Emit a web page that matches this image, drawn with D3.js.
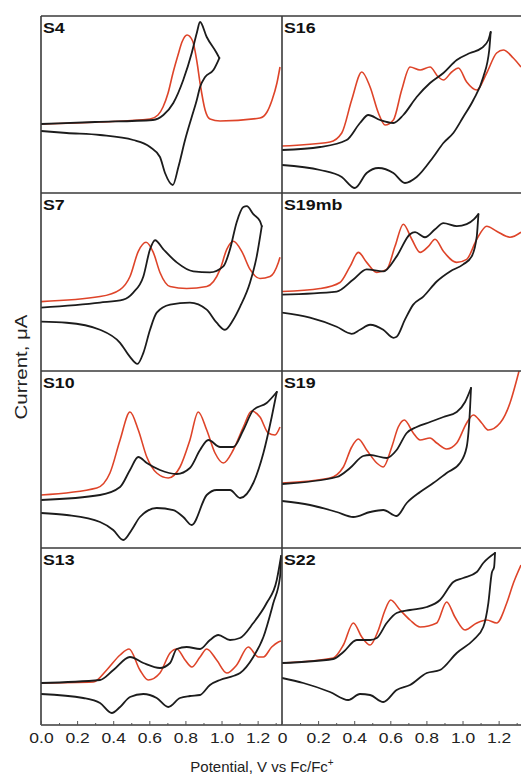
<!DOCTYPE html>
<html>
<head>
<meta charset="utf-8">
<script src="https://cdn.jsdelivr.net/npm/d3@7"></script>
<style>
  html, body { margin: 0; padding: 0; background: #fff; }
  svg { display: block; }
</style>
</head>
<body>
<svg id="chart" width="521" height="775"></svg>
<script>
// Potential (V vs Fc/Fc+) and current (arbitrary units, 0-177 per panel).
// CV traces run forward to the switching potential, then back.

const panelNames = ["S4", "S16", "S7", "S19mb", "S10", "S19", "S13", "S22"];
const majorTicks = [0, 0.2, 0.4, 0.6, 0.8, 1.0, 1.2];
const minorTicks = [0.1, 0.3, 0.5, 0.7, 0.9, 1.1, 1.3];
const leftTickLabels = ["0.0", "0.2", "0.4", "0.6", "0.8", "1.0", "1.2"];
const rightTickLabels = ["0", "0.2", "0.4", "0.6", "0.8", "1.0", "1.2"];

const s4Dpv = [[0,69],[0.327,71],[0.604,74],[0.648,78],[0.676,86],[0.704,100],[0.731,120],[0.759,138],[0.781,151],[0.809,158],[0.840,152],[0.864,131],[0.881,110],[0.909,83],[0.936,74],[0.992,72],[1.213,75],[1.252,81],[1.280,93],[1.307,110],[1.324,126]];
const s4Cv = [[0,69],[0.30,71],[0.620,73],[0.678,78],[0.733,90],[0.788,113],[0.835,140],[0.863,160],[0.881,171],[0.918,156],[0.973,140],[0.988,135],[0.955,123],[0.909,116],[0.881,106],[0.863,93],[0.835,76],[0.798,53],[0.761,26],[0.730,8],[0.687,20],[0.659,36],[0.604,46],[0.511,53],[0.327,58],[0.142,60],[0,62]];

const s7Dpv = [[0,69],[0.327,74],[0.438,81],[0.493,94],[0.539,119],[0.582,128],[0.622,118],[0.659,98],[0.715,84],[0.807,82],[0.918,84],[0.992,101],[1.029,121],[1.065,129],[1.112,119],[1.158,101],[1.213,92],[1.269,94],[1.315,108],[1.324,113]];
const s7Cv = [[0,63],[0.327,68],[0.456,71],[0.511,78],[0.567,94],[0.604,121],[0.632,130],[0.678,121],[0.752,108],[0.844,99],[0.936,98],[1.010,104],[1.047,121],[1.084,148],[1.121,163],[1.140,164],[1.176,156],[1.213,149],[1.223,144],[1.195,114],[1.158,88],[1.103,64],[1.065,51],[1.019,41],[0.973,48],[0.918,61],[0.825,68],[0.715,66],[0.641,58],[0.604,41],[0.567,18],[0.534,7],[0.493,14],[0.438,28],[0.327,41],[0.142,48],[0,49]];

const s10Dpv = [[0,53],[0.309,60],[0.382,75],[0.438,108],[0.493,136],[0.539,118],[0.586,91],[0.641,75],[0.705,70],[0.770,81],[0.825,108],[0.871,136],[0.918,118],[0.964,95],[1.010,85],[1.065,98],[1.121,121],[1.167,137],[1.213,131],[1.259,115],[1.296,113],[1.324,121]];
const s10Cv = [[0,48],[0.327,53],[0.438,61],[0.493,78],[0.539,91],[0.586,85],[0.659,78],[0.752,74],[0.825,80],[0.881,98],[0.927,108],[0.992,101],[1.065,101],[1.121,118],[1.176,138],[1.250,145],[1.306,156],[1.278,131],[1.232,95],[1.176,65],[1.103,50],[1.047,58],[0.973,58],[0.918,53],[0.835,23],[0.788,31],[0.733,38],[0.641,40],[0.548,31],[0.502,18],[0.456,8],[0.400,18],[0.327,26],[0.142,33],[0,35]];

const s13Dpv = [[0,42],[0.290,43],[0.364,55],[0.438,70],[0.488,76],[0.548,55],[0.594,45],[0.659,52],[0.715,72],[0.752,76],[0.798,65],[0.835,58],[0.881,68],[0.918,76],[0.973,65],[1.029,52],[1.084,60],[1.148,78],[1.204,68],[1.232,68],[1.278,78],[1.315,83],[1.330,84]];
const s13Cv = [[0,42],[0.327,45],[0.401,55],[0.493,68],[0.567,62],[0.659,57],[0.715,62],[0.752,76],[0.807,78],[0.881,76],[0.936,85],[0.982,90],[1.047,85],[1.102,87],[1.176,102],[1.250,122],[1.306,145],[1.330,169],[1.324,148],[1.287,122],[1.232,88],[1.176,68],[1.103,52],[1.065,49],[0.992,45],[0.936,40],[0.881,30],[0.825,29],[0.770,27],[0.705,18],[0.641,27],[0.567,31],[0.493,28],[0.438,18],[0.392,12],[0.327,22],[0.234,27],[0,31]];

const s16Dpv = [[0,47],[0.266,51],[0.331,60],[0.386,93],[0.442,121],[0.488,106],[0.534,80],[0.571,68],[0.617,73],[0.663,103],[0.709,126],[0.765,123],[0.820,126],[0.866,116],[0.894,113],[0.940,121],[0.977,125],[1.023,111],[1.079,103],[1.134,120],[1.189,140],[1.226,143],[1.281,135],[1.324,126]];
const s16Cv = [[0,43],[0.211,46],[0.358,53],[0.432,70],[0.478,78],[0.543,73],[0.617,70],[0.672,78],[0.746,96],[0.820,110],[0.894,120],[0.968,133],[1.042,140],[1.106,145],[1.143,153],[1.156,161],[1.148,143],[1.115,116],[1.060,93],[1.004,76],[0.949,60],[0.894,50],[0.838,36],[0.746,16],[0.681,10],[0.617,20],[0.534,25],[0.469,20],[0.404,5],[0.331,16],[0.211,23],[0,28]];

const s19mbDpv = [[0,79],[0.211,82],[0.321,88],[0.377,104],[0.423,118],[0.469,108],[0.525,98],[0.580,101],[0.626,124],[0.672,146],[0.719,131],[0.765,118],[0.811,124],[0.848,131],[0.894,119],[0.968,108],[1.023,111],[1.079,131],[1.134,144],[1.189,139],[1.263,133],[1.324,138]];
const s19mbCv = [[0,76],[0.303,79],[0.395,91],[0.469,101],[0.561,99],[0.635,114],[0.709,136],[0.737,138],[0.792,133],[0.848,141],[0.894,147],[0.968,144],[1.023,146],[1.064,151],[1.088,156],[1.079,134],[1.051,114],[1.004,106],[0.931,99],[0.857,89],[0.783,74],[0.727,66],[0.681,51],[0.635,34],[0.617,33],[0.561,41],[0.488,46],[0.432,41],[0.386,37],[0.303,44],[0.155,53],[0,58]];

const s19Dpv = [[0,65],[0.266,70],[0.340,81],[0.386,101],[0.423,109],[0.469,98],[0.525,85],[0.561,81],[0.608,101],[0.644,121],[0.678,128],[0.727,115],[0.765,108],[0.820,110],[0.857,105],[0.912,99],[0.968,105],[1.023,125],[1.060,133],[1.106,125],[1.143,118],[1.208,125],[1.263,145],[1.300,168],[1.313,177]];
const s19Cv = [[0,64],[0.303,71],[0.377,80],[0.450,92],[0.488,93],[0.580,90],[0.635,98],[0.691,115],[0.746,121],[0.820,126],[0.894,131],[0.968,136],[1.014,146],[1.047,160],[1.042,141],[1.023,101],[0.986,85],[0.912,75],[0.838,65],[0.765,56],[0.691,45],[0.635,32],[0.561,38],[0.488,36],[0.395,31],[0.303,36],[0.155,43],[0,47]];

const s22Dpv = [[0,62],[0.284,67],[0.340,80],[0.395,102],[0.442,88],[0.488,80],[0.534,95],[0.571,115],[0.602,125],[0.654,115],[0.709,105],[0.765,98],[0.857,102],[0.912,123],[0.958,108],[1.014,95],[1.079,102],[1.134,105],[1.189,102],[1.245,122],[1.282,142],[1.324,160]];
const s22Cv = [[0,62],[0.284,66],[0.340,73],[0.414,85],[0.488,85],[0.525,87],[0.580,102],[0.635,112],[0.709,115],[0.802,118],[0.875,125],[0.949,143],[1.004,147],[1.079,153],[1.115,162],[1.180,172],[1.175,158],[1.162,152],[1.143,122],[1.115,98],[1.060,85],[0.968,72],[0.875,55],[0.802,52],[0.709,40],[0.635,35],[0.561,23],[0.488,30],[0.432,31],[0.367,25],[0.266,33],[0.118,42],[0,47]];

const dpvSeries = [s4Dpv, s16Dpv, s7Dpv, s19mbDpv, s10Dpv, s19Dpv, s13Dpv, s22Dpv];
const cvSeries = [s4Cv, s16Cv, s7Cv, s19mbCv, s10Cv, s19Cv, s13Cv, s22Cv];

// ---- layout ----
const colRange = [[41, 282], [282, 523]];
const rowEdges = [16, 193, 371, 548, 725];
const frameColor = "#3a3a3a";
const fontFamily = "'Liberation Sans', Arial, Helvetica, sans-serif";

const svg = d3.select("#chart");
const xScales = colRange.map(r => d3.scaleLinear().domain([0, 1.335]).range(r));

const defs = svg.append("defs");

// Split a CV loop at its switching potential into two branches, each ordered by rising potential.
function branches(cv) {
  const iv = d3.maxIndex(cv, d => d[0]);
  return [cv.slice(0, iv + 1), cv.slice(iv).reverse()];
}

panelNames.forEach((name, i) => {
  const col = i % 2, row = Math.floor(i / 2);
  const x = xScales[col];
  const top = rowEdges[row], bottom = rowEdges[row + 1];
  const y = d3.scaleLinear().domain([0, 177]).range([bottom, top]);

  defs.append("clipPath").attr("id", "clip" + i)
    .append("rect")
    .attr("x", colRange[col][0]).attr("y", top)
    .attr("width", colRange[col][1] - colRange[col][0]).attr("height", bottom - top);

  const line = d3.line()
    .x(d => x(d[0])).y(d => y(d[1]))
    .curve(d3.curveMonotoneX);

  const g = svg.append("g").attr("clip-path", `url(#clip${i})`);
  g.append("path").datum(dpvSeries[i])
    .attr("d", line).attr("fill", "none")
    .attr("stroke", "#de4429").attr("stroke-width", 1.6)
    .attr("stroke-linejoin", "round");
  g.selectAll("path.cv").data(branches(cvSeries[i])).join("path")
    .attr("class", "cv")
    .attr("d", line).attr("fill", "none")
    .attr("stroke", "#1c1c1c").attr("stroke-width", 1.8)
    .attr("stroke-linejoin", "round").attr("stroke-linecap", "round");

  svg.append("text")
    .attr("transform", `translate(${colRange[col][0] + 2},${top + 17}) scale(1.27,1)`)
    .attr("font-family", fontFamily).attr("font-size", 14).attr("font-weight", "bold")
    .attr("fill", "#111")
    .text(name);
});

// ---- frame ----
const frame = svg.append("g").attr("stroke", frameColor).attr("stroke-width", 1.6);
rowEdges.forEach(yv => frame.append("line").attr("x1", 41).attr("x2", 521).attr("y1", yv).attr("y2", yv));
[41, 282].forEach(xv => frame.append("line").attr("x1", xv).attr("x2", xv).attr("y1", 16).attr("y2", 725));

// ---- bottom axes ----
[0, 1].forEach(col => {
  const x = xScales[col];
  const labels = col === 0 ? leftTickLabels : rightTickLabels;
  const ax = svg.append("g").attr("transform", `translate(0,${rowEdges[4]})`);
  ax.call(d3.axisBottom(x).tickValues(majorTicks).tickSize(-4).tickSizeOuter(0)
      .tickPadding(8).tickFormat((d, k) => labels[k]))
    .call(g => g.select(".domain").remove());
  ax.selectAll(".tick line").attr("stroke", "#555");
  ax.selectAll(".tick text")
    .attr("font-family", fontFamily).attr("font-size", 14).attr("fill", "#222")
    .attr("transform", "scale(1.25,1)");
  const mn = svg.append("g").attr("transform", `translate(0,${rowEdges[4]})`);
  mn.call(d3.axisBottom(x).tickValues(minorTicks).tickSize(-2).tickSizeOuter(0).tickFormat(""))
    .call(g => g.select(".domain").remove());
  mn.selectAll(".tick line").attr("stroke", "#555");
});

// ---- axis titles ----
const xTitle = svg.append("text")
  .attr("x", 262).attr("y", 772)
  .attr("text-anchor", "middle")
  .attr("font-family", fontFamily).attr("font-size", 15).attr("fill", "#222");
xTitle.append("tspan").text("Potential, V vs Fc/Fc");
xTitle.append("tspan").attr("dy", -6).attr("font-size", 10).text("+");

svg.append("text")
  .attr("transform", "translate(27,367) rotate(-90) scale(1.28,1)")
  .attr("text-anchor", "middle")
  .attr("font-family", fontFamily).attr("font-size", 16).attr("fill", "#222")
  .text("Current, μA");
</script>
</body>
</html>
